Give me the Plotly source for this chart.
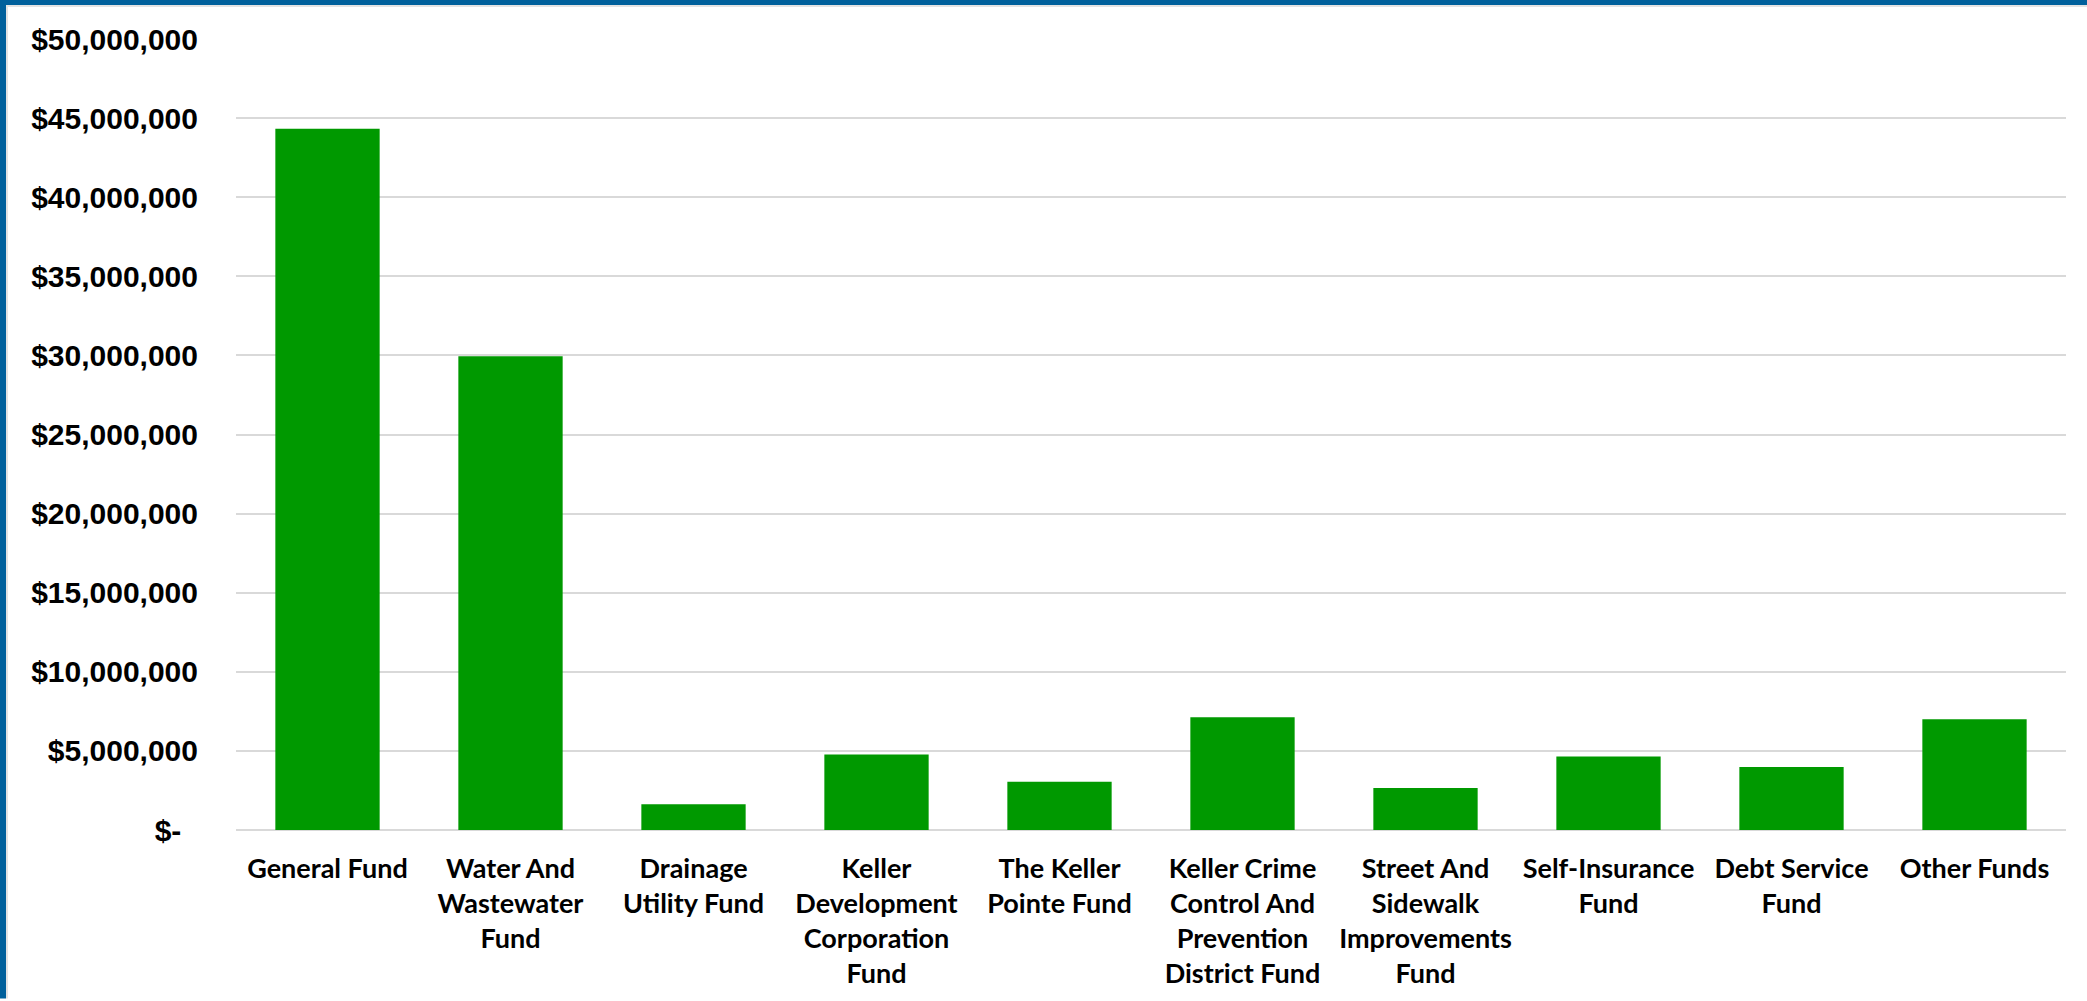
import plotly.graph_objects as go

# Fund names (line breaks where the labels wrap) and their totals in dollars
funds = [
    "General Fund",
    "Water And<br>Wastewater<br>Fund",
    "Drainage<br>Utility Fund",
    "Keller<br>Development<br>Corporation<br>Fund",
    "The Keller<br>Pointe Fund",
    "Keller Crime<br>Control And<br>Prevention<br>District Fund",
    "Street And<br>Sidewalk<br>Improvements<br>Fund",
    "Self-Insurance<br>Fund",
    "Debt Service<br>Fund",
    "Other Funds",
]
amounts = [
    44330000,
    29950000,
    1620000,
    4770000,
    3050000,
    7120000,
    2650000,
    4650000,
    3990000,
    7000000,
]

tick_values = [0, 5000000, 10000000, 15000000, 20000000, 25000000,
               30000000, 35000000, 40000000, 45000000, 50000000]
tick_labels = ["$-\u00a0\u00a0"] + ["${:,}".format(v) for v in tick_values[1:]]

W, H = 2087, 1001
ML, MR, MT, MB = 236, 21, 39, 169
PW, PH = W - ML - MR, H - MT - MB

BLUE = "#00609C"
GRID = "#D9D9D9"
GREEN = "#009900"

fig = go.Figure(
    go.Bar(
        x=funds,
        y=amounts,
        marker=dict(color=GREEN, line=dict(width=0)),
    )
)


def px_x(p):
    return (p - ML) / PW


def px_y(p):
    return 1 - (p - MT) / PH


# Frame: blue band along top and left edges with a thin grey inner line
shapes = [
    dict(type="rect", xref="paper", yref="paper", x0=px_x(0), x1=px_x(W),
         y0=px_y(5), y1=px_y(0), fillcolor=BLUE, line_width=0, layer="above"),
    dict(type="rect", xref="paper", yref="paper", x0=px_x(0), x1=px_x(6),
         y0=px_y(H), y1=px_y(0), fillcolor=BLUE, line_width=0, layer="above"),
    dict(type="rect", xref="paper", yref="paper", x0=px_x(6), x1=px_x(W),
         y0=px_y(7), y1=px_y(5), fillcolor="#E3E3E3", line_width=0, layer="above"),
    dict(type="rect", xref="paper", yref="paper", x0=px_x(6), x1=px_x(8),
         y0=px_y(H), y1=px_y(5), fillcolor="#E3E3E3", line_width=0, layer="above"),
]

fig.update_layout(
    width=W,
    height=H,
    margin=dict(l=ML, r=MR, t=MT, b=MB, pad=0),
    paper_bgcolor="white",
    plot_bgcolor="white",
    bargap=0.43,
    showlegend=False,
    shapes=shapes,
    xaxis=dict(
        showgrid=False,
        showline=False,
        zeroline=False,
        ticks="",
        tickangle=0,
        ticklabelstandoff=20,
        tickfont=dict(family="Lato, sans-serif",
                      size=27, color="black", weight="bold"),
    ),
    yaxis=dict(
        range=[0, 50000000],
        tickvals=tick_values,
        ticktext=tick_labels,
        showgrid=True,
        gridcolor=GRID,
        gridwidth=2,
        zeroline=True,
        zerolinecolor=GRID,
        zerolinewidth=2,
        showline=False,
        ticks="",
        ticklabelstandoff=37,
        tickfont=dict(family="Liberation Sans, Arial, sans-serif",
                      size=30, color="black", weight="bold"),
    ),
)

fig.write_html("out.html")
